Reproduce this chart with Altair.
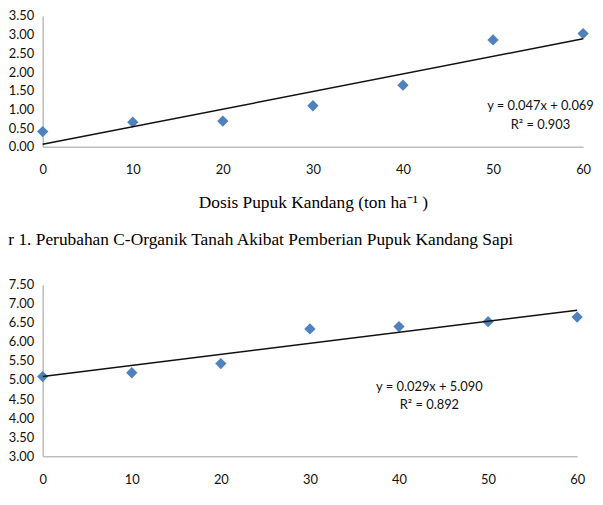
import altair as alt
import pandas as pd

# ---- data ----
dosis = [0, 10, 20, 30, 40, 50, 60]
c_organik = [0.41, 0.66, 0.69, 1.10, 1.65, 2.86, 3.03]
chart2_vals = [5.09, 5.19, 5.43, 6.34, 6.40, 6.53, 6.65]

x_ticks = [0, 10, 20, 30, 40, 50, 60]
y1_ticks = [0.0, 0.5, 1.0, 1.5, 2.0, 2.5, 3.0, 3.5]
y2_ticks = [3.0, 3.5, 4.0, 4.5, 5.0, 5.5, 6.0, 6.5, 7.0, 7.5]

trend1 = {"slope": 0.047, "intercept": 0.069}
trend2 = {"slope": 0.029, "intercept": 5.090}
eq1 = ["y = 0.047x + 0.069", "R² = 0.903"]
eq2 = ["y = 0.029x + 5.090", "R² = 0.892"]

x_title = "Dosis Pupuk Kandang (ton ha⁻¹ )"
caption = "r 1. Perubahan C-Organik Tanah Akibat Pemberian Pupuk Kandang Sapi"

BLUE = "#4F81BD"
AXIS = "#BDBDBD"
LABEL_FONT = "Lato"


def make_panel(values, yticks, trend, eq, width, height, eq_pos, xtitle=None, title=None):
    pts = pd.DataFrame({"x": dosis, "y": values})
    line = pd.DataFrame({"x": [dosis[0], dosis[-1]]})
    line["y"] = trend["slope"] * line["x"] + trend["intercept"]
    eqdf = pd.DataFrame({"l1": [eq[0]], "l2": [eq[1]]})

    xs = alt.Scale(domain=[x_ticks[0], x_ticks[-1]], nice=False)
    ys = alt.Scale(domain=[yticks[0], yticks[-1]], nice=False)
    if xtitle:
        xax = alt.Axis(values=x_ticks, format="d", ticks=False, grid=False,
                       labelPadding=17, labelFlush=False, title=xtitle,
                       titleFont="Liberation Serif", titleFontSize=17.5,
                       titleFontWeight="normal", titleColor="#000",
                       titlePadding=17)
    else:
        xax = alt.Axis(values=x_ticks, format="d", ticks=False, grid=False,
                       labelPadding=18, labelFlush=False, title=None)
    yax = alt.Axis(values=yticks, format=".2f", ticks=False, grid=False,
                   labelPadding=9, title=None, labelOverlap=False,
                   labelFlush=False)

    base_pts = alt.Chart(pts).mark_point(
        shape="diamond", filled=True, size=130, color=BLUE, opacity=1
    ).encode(
        x=alt.X("x:Q", scale=xs, axis=xax),
        y=alt.Y("y:Q", scale=ys, axis=yax),
    )
    trend_line = alt.Chart(line).mark_line(color="#111", strokeWidth=1.5).encode(
        x=alt.X("x:Q", scale=xs, axis=xax), y=alt.Y("y:Q", scale=ys, axis=yax)
    )
    t1 = alt.Chart(eqdf).mark_text(font=LABEL_FONT, fontSize=13, color="#111",
                                   align="center", baseline="middle").encode(
        x=alt.value(eq_pos[0]), y=alt.value(eq_pos[1]), text="l1:N")
    t2 = alt.Chart(eqdf).mark_text(font=LABEL_FONT, fontSize=13, color="#111",
                                   align="center", baseline="middle").encode(
        x=alt.value(eq_pos[0]), y=alt.value(eq_pos[2]), text="l2:N")
    layer = alt.layer(base_pts, trend_line, t1, t2)
    props = dict(width=width, height=height)
    if title:
        props["title"] = alt.TitleParams(title, anchor="start", frame="bounds",
                                         font="Liberation Serif", fontSize=17.5,
                                         fontWeight="normal", color="#000",
                                         offset=31)
    return layer.properties(**props)


top = make_panel(c_organik, y1_ticks, trend1, eq1, 545, 132,
                 (502, 91, 110), xtitle=x_title)
bottom = make_panel(chart2_vals, y2_ticks, trend2, eq2, 539, 173,
                    (390, 103, 121), title=caption)

chart = alt.vconcat(top, bottom, spacing=19).properties(
    padding=0
).configure_view(stroke=None).configure_axis(
    domainColor=AXIS, domainWidth=1.5, labelFont=LABEL_FONT, labelFontSize=13,
    labelColor="#111"
)

chart.save("out.html", embed_options={"renderer": "svg", "actions": False})
